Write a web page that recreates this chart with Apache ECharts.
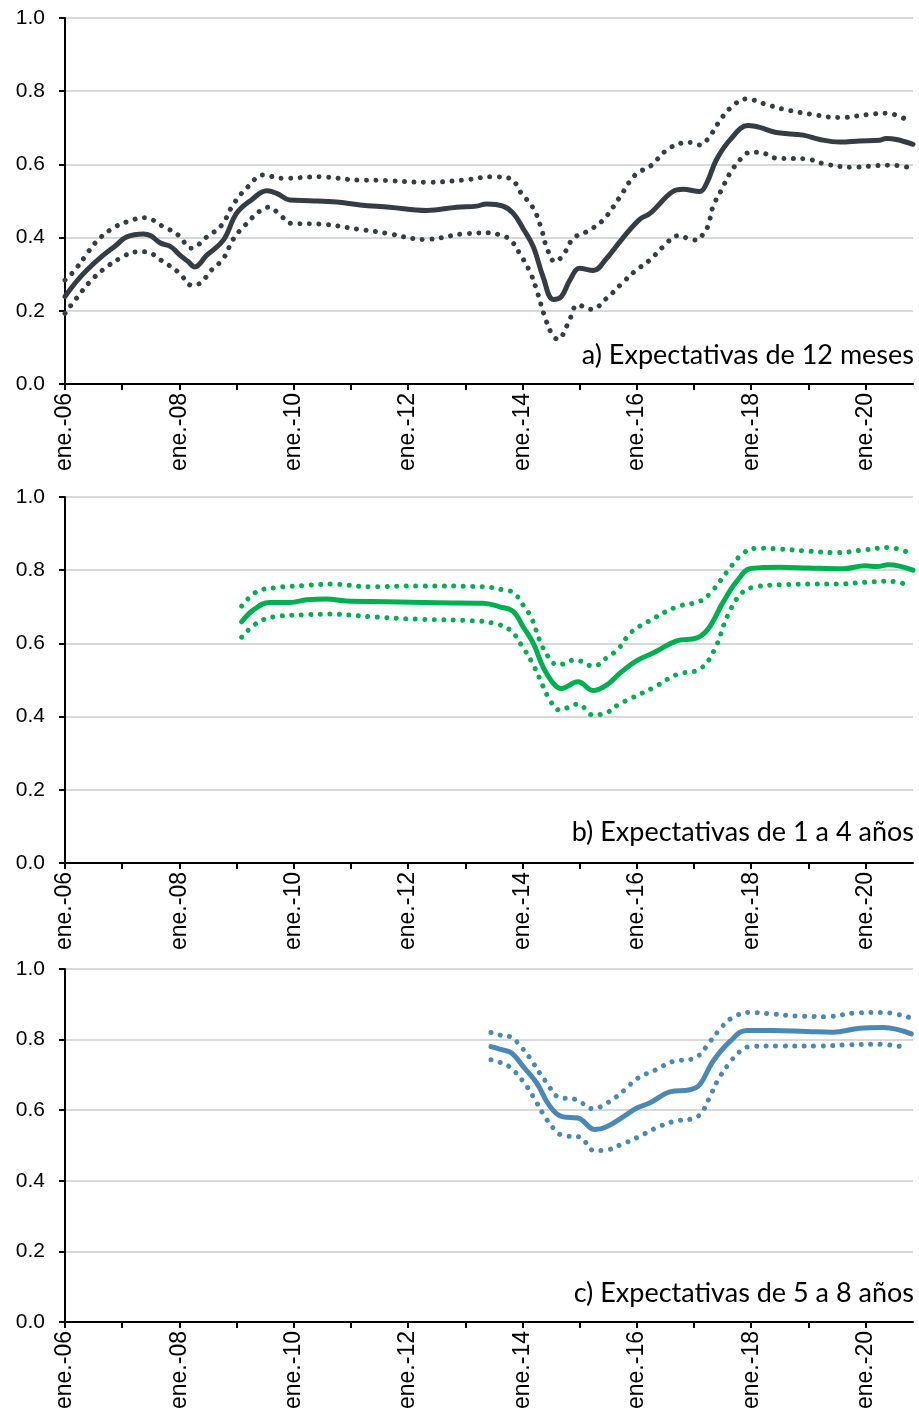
<!DOCTYPE html>
<html>
<head>
<meta charset="utf-8">
<script src="https://cdn.jsdelivr.net/npm/echarts@6/dist/echarts.min.js"></script>
<style>
html,body{margin:0;padding:0;background:#fff;}
#c{width:919px;height:1412px;}
</style>
</head>
<body>
<div id="c"></div>
<script>
// Panel titles
var panelTitles = ['a) Expectativas de 12 meses', 'b) Expectativas de 1 a 4 años', 'c) Expectativas de 5 a 8 años'];
var yTicks = [0, 0.2, 0.4, 0.6, 0.8, 1.0];
var xStart = 2006, xEnd = 2020.83; // ene.-06 .. ~nov.-20

// Panel a: 12 months (mid, upper, lower) as [decimal year, value]
var aMid = [[2006.0,0.239],[2006.2,0.28],[2006.38,0.311],[2006.67,0.352],[2006.9,0.38],[2007.08,0.402],[2007.37,0.41],[2007.5,0.405],[2007.66,0.386],[2007.85,0.375],[2008.01,0.352],[2008.15,0.335],[2008.27,0.32],[2008.48,0.352],[2008.77,0.393],[2009.0,0.466],[2009.26,0.503],[2009.53,0.528],[2009.7,0.521],[2009.93,0.503],[2010.28,0.501],[2010.75,0.497],[2011.16,0.489],[2011.68,0.483],[2012.32,0.474],[2012.85,0.483],[2013.2,0.486],[2013.37,0.492],[2013.66,0.486],[2013.84,0.466],[2014.01,0.425],[2014.19,0.375],[2014.36,0.293],[2014.54,0.231],[2014.68,0.239],[2014.83,0.284],[2015.0,0.316],[2015.24,0.31],[2015.47,0.343],[2015.73,0.394],[2016.05,0.45],[2016.23,0.466],[2016.63,0.526],[2016.81,0.532],[2017.1,0.526],[2017.22,0.548],[2017.39,0.612],[2017.63,0.667],[2017.95,0.706],[2018.15,0.701],[2018.44,0.687],[2018.91,0.68],[2019.2,0.668],[2019.55,0.661],[2019.9,0.664],[2020.25,0.666],[2020.36,0.671],[2020.54,0.668],[2020.83,0.655]];
var aUp = [[2006.0,0.284],[2006.15,0.307],[2006.35,0.348],[2006.52,0.384],[2006.79,0.421],[2007.08,0.443],[2007.4,0.454],[2007.72,0.43],[2007.98,0.407],[2008.21,0.371],[2008.48,0.402],[2008.74,0.434],[2008.94,0.49],[2009.2,0.539],[2009.47,0.571],[2009.79,0.562],[2010.46,0.566],[2011.13,0.557],[2011.62,0.556],[2012.29,0.551],[2012.96,0.557],[2013.46,0.566],[2013.78,0.562],[2013.98,0.521],[2014.19,0.48],[2014.33,0.425],[2014.42,0.375],[2014.57,0.334],[2014.71,0.352],[2014.89,0.398],[2015.12,0.416],[2015.41,0.448],[2015.7,0.51],[2015.97,0.571],[2016.26,0.598],[2016.49,0.635],[2016.78,0.658],[2016.96,0.66],[2017.1,0.653],[2017.25,0.671],[2017.42,0.712],[2017.63,0.753],[2017.92,0.779],[2018.24,0.765],[2018.56,0.751],[2019.05,0.737],[2019.55,0.728],[2020.04,0.736],[2020.36,0.74],[2020.71,0.723]];
var aLow = [[2006.0,0.193],[2006.2,0.234],[2006.44,0.28],[2006.67,0.313],[2006.96,0.343],[2007.25,0.361],[2007.4,0.361],[2007.72,0.334],[2008.01,0.302],[2008.21,0.27],[2008.36,0.275],[2008.56,0.311],[2008.77,0.343],[2008.94,0.395],[2009.15,0.434],[2009.41,0.473],[2009.57,0.483],[2009.76,0.462],[2009.96,0.439],[2010.46,0.437],[2011.13,0.423],[2011.62,0.412],[2012.29,0.395],[2012.96,0.41],[2013.46,0.413],[2013.6,0.407],[2013.78,0.395],[2013.95,0.357],[2014.13,0.307],[2014.24,0.261],[2014.39,0.184],[2014.51,0.138],[2014.62,0.122],[2014.8,0.166],[2014.97,0.216],[2015.21,0.204],[2015.47,0.234],[2015.76,0.278],[2015.99,0.311],[2016.23,0.339],[2016.46,0.375],[2016.72,0.405],[2016.9,0.398],[2017.05,0.393],[2017.16,0.41],[2017.25,0.434],[2017.33,0.484],[2017.48,0.53],[2017.63,0.576],[2017.83,0.617],[2017.98,0.633],[2018.15,0.633],[2018.44,0.617],[2018.96,0.615],[2019.29,0.601],[2019.78,0.592],[2020.13,0.596],[2020.45,0.598],[2020.77,0.591]];

// Panel b: 1 to 4 years
var bMid = [[2009.09,0.659],[2009.29,0.691],[2009.58,0.712],[2009.93,0.712],[2010.23,0.719],[2010.57,0.721],[2010.92,0.716],[2011.62,0.714],[2012.5,0.711],[2013.31,0.71],[2013.6,0.70],[2013.84,0.687],[2014.01,0.646],[2014.19,0.60],[2014.36,0.536],[2014.54,0.491],[2014.68,0.477],[2014.97,0.495],[2015.24,0.471],[2015.47,0.486],[2015.7,0.518],[2016.0,0.553],[2016.3,0.575],[2016.7,0.607],[2017.05,0.615],[2017.25,0.64],[2017.5,0.71],[2017.75,0.77],[2018.0,0.805],[2018.5,0.808],[2019.0,0.806],[2019.6,0.804],[2020.0,0.812],[2020.2,0.81],[2020.4,0.815],[2020.83,0.80]];
var bUp = [[2009.09,0.702],[2009.35,0.741],[2009.67,0.752],[2010.17,0.758],[2010.66,0.762],[2011.33,0.755],[2012.21,0.757],[2013.31,0.755],[2013.66,0.746],[2013.84,0.739],[2014.01,0.705],[2014.16,0.669],[2014.3,0.609],[2014.45,0.564],[2014.62,0.541],[2014.92,0.555],[2015.24,0.538],[2015.5,0.564],[2015.67,0.584],[2015.9,0.63],[2016.2,0.66],[2016.7,0.70],[2017.1,0.715],[2017.3,0.74],[2017.6,0.80],[2017.85,0.845],[2018.1,0.86],[2018.5,0.858],[2019.0,0.852],[2019.5,0.848],[2020.0,0.856],[2020.4,0.862],[2020.8,0.845]];
var bLow = [[2009.09,0.617],[2009.35,0.655],[2009.67,0.673],[2010.17,0.678],[2010.63,0.68],[2011.33,0.673],[2012.21,0.666],[2013.14,0.662],[2013.49,0.655],[2013.78,0.637],[2013.98,0.596],[2014.16,0.55],[2014.3,0.505],[2014.45,0.454],[2014.65,0.418],[2014.97,0.434],[2015.24,0.404],[2015.5,0.413],[2015.67,0.432],[2015.9,0.45],[2016.3,0.48],[2016.7,0.515],[2017.1,0.53],[2017.35,0.58],[2017.6,0.68],[2017.85,0.74],[2018.1,0.755],[2018.5,0.76],[2019.0,0.762],[2019.5,0.762],[2020.0,0.767],[2020.4,0.77],[2020.8,0.757]];

// Panel c: 5 to 8 years
var cMid = [[2013.45,0.78],[2013.6,0.773],[2013.81,0.762],[2014.01,0.724],[2014.25,0.677],[2014.48,0.611],[2014.71,0.581],[2014.97,0.578],[2015.27,0.545],[2015.47,0.553],[2015.76,0.581],[2016.0,0.606],[2016.23,0.621],[2016.58,0.652],[2016.93,0.658],[2017.1,0.672],[2017.33,0.738],[2017.63,0.795],[2017.92,0.826],[2018.38,0.826],[2018.97,0.823],[2019.43,0.821],[2019.9,0.832],[2020.31,0.834],[2020.8,0.816]];
var cUp = [[2013.45,0.82],[2013.63,0.812],[2013.81,0.807],[2013.92,0.79],[2014.13,0.748],[2014.3,0.705],[2014.42,0.679],[2014.62,0.638],[2014.94,0.63],[2015.24,0.604],[2015.38,0.611],[2015.64,0.638],[2015.79,0.658],[2016.02,0.691],[2016.34,0.715],[2016.63,0.738],[2016.97,0.745],[2017.1,0.757],[2017.22,0.781],[2017.42,0.823],[2017.66,0.861],[2017.98,0.877],[2018.33,0.873],[2018.79,0.867],[2019.32,0.865],[2019.81,0.875],[2020.31,0.877],[2020.8,0.861]];
var cLow = [[2013.45,0.743],[2013.63,0.734],[2013.78,0.722],[2014.01,0.682],[2014.19,0.638],[2014.36,0.59],[2014.55,0.547],[2014.71,0.528],[2015.0,0.524],[2015.25,0.486],[2015.41,0.486],[2015.73,0.503],[2016.05,0.526],[2016.34,0.55],[2016.66,0.569],[2016.98,0.576],[2017.13,0.592],[2017.28,0.639],[2017.42,0.686],[2017.6,0.729],[2017.8,0.766],[2018.0,0.781],[2018.5,0.782],[2019.17,0.782],[2019.67,0.785],[2020.19,0.787],[2020.68,0.779]];

var colors = ['#363d42', '#00b050', '#4a89b3'];
var panels = [[aMid, aUp, aLow], [bMid, bUp, bLow], [cMid, cUp, cLow]];
var grids = [
  {left: 65, right: 6, top: 18, height: 366},
  {left: 65, right: 6, top: 497, height: 366},
  {left: 65, right: 6, top: 969, height: 354}
];
var titleTops = [342, 819, 1280];

var font = '"Liberation Sans", Arial, sans-serif';
var option = {
  animation: false,
  backgroundColor: '#fff',
  grid: grids,
  title: panelTitles.map(function (t, i) {
    return {text: t, right: 5, top: titleTops[i], padding: 0,
      textStyle: {fontFamily: 'Lato, "Open Sans", sans-serif', fontSize: 27, fontWeight: 'normal', color: '#000'}};
  }),
  xAxis: grids.map(function (g, i) {
    return {
      type: 'value', gridIndex: i, min: xStart, max: xEnd, interval: 1,
      axisLine: {show: true, onZero: false, lineStyle: {color: '#000', width: 2}},
      axisTick: {show: true, length: 6, lineStyle: {color: '#000', width: 2}},
      splitLine: {show: false},
      axisLabel: {
        rotate: 90, margin: 9, fontSize: 23, fontFamily: font, color: '#000',
        showMaxLabel: false, padding: [8, 0, 0, 0],
        formatter: function (v) {
          if (Math.abs(v - Math.round(v)) > 1e-6) return '';
          var y = Math.round(v);
          if (y % 2 !== 0) return '';
          return 'ene.-' + String(y).slice(2);
        }
      }
    };
  }),
  yAxis: grids.map(function (g, i) {
    return {
      type: 'value', gridIndex: i, min: yTicks[0], max: yTicks[yTicks.length - 1], interval: 0.2,
      axisLine: {show: true, lineStyle: {color: '#000', width: 2}},
      axisTick: {show: true, length: 6, lineStyle: {color: '#000', width: 2}},
      splitLine: {show: true, lineStyle: {color: '#d9d9d9', width: 2}},
      axisLabel: {margin: 20, fontSize: 21, fontFamily: font, color: '#000',
        formatter: function (v) { return v.toFixed(1); }}
    };
  }),
  series: []
};

panels.forEach(function (p, i) {
  [1, 2].forEach(function (k) {
    option.series.push({
      type: 'line', xAxisIndex: i, yAxisIndex: i, data: p[k], showSymbol: false, smooth: 0.4,
      lineStyle: {color: colors[i], width: 5, type: [0.01, 9.5], cap: 'round'}, z: 2
    });
  });
  option.series.push({
    type: 'line', xAxisIndex: i, yAxisIndex: i, data: p[0], showSymbol: false, smooth: 0.4,
    lineStyle: {color: colors[i], width: 5, cap: 'round', join: 'round'}, z: 3
  });
});

var chart = echarts.init(document.getElementById('c'), null, {renderer: 'canvas'});
chart.setOption(option);
</script>
</body>
</html>
